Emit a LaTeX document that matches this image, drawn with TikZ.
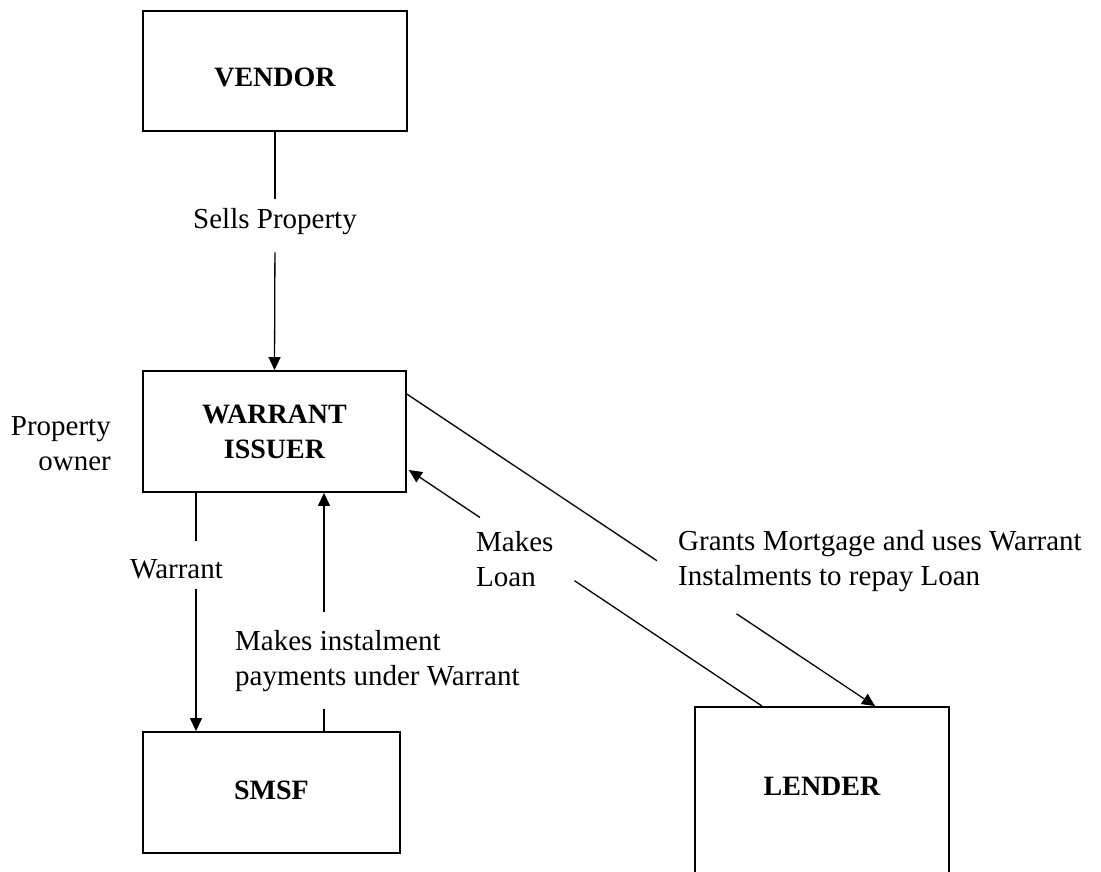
\documentclass[tikz,border=0pt]{standalone}
\usepackage{fontspec}
\setmainfont{Liberation Serif}
\usetikzlibrary{arrows.meta,calc}
\tikzset{
  box/.style={draw, line width=1.8pt, inner sep=0pt},
  boxtxt/.style={font=\bfseries\fontsize{28}{35}\selectfont, inner sep=0pt, align=center},
  lbl/.style={font=\fontsize{29}{35}\selectfont, inner sep=0pt},
  conn/.style={line width=1.3pt},
  arr/.style={conn, -{Triangle[length=13pt,width=12pt]}}
}
\begin{document}
\begin{tikzpicture}[x=1pt,y=-1pt]
\useasboundingbox (0,0) rectangle (1101,872);
\fill[white] (0,0) rectangle (1101,872);
\clip (0,0) rectangle (1101,872);

% boxes
\node[box, minimum width=264pt, minimum height=120pt] (vendor) at (275,71) {};
\node[box, minimum width=263pt, minimum height=121pt] (warrant) at (274.5,431.5) {};
\node[box, minimum width=257pt, minimum height=121pt] (smsf) at (271.5,792.5) {};
\node[box, minimum width=254pt, minimum height=200pt] (lender) at (822,807) {};

% box texts
\node[boxtxt, anchor=base] (vendortxt) at (275,87) {VENDOR};
\node[boxtxt, anchor=north] (warranttxt) at (274.5,398.5) {\strut WARRANT\\\strut ISSUER};
\node[boxtxt, anchor=base] (smsftxt) at (271.5,799) {SMSF};
\node[boxtxt, anchor=base] (lendertxt) at (822,795) {LENDER};

% labels
\node[lbl, anchor=base] (sells) at (275,229) {Sells Property};
\node[lbl, anchor=north east, align=right] (owner) at (111,410.5) {\strut Property\\\strut owner};
\node[lbl, anchor=base west] (wlbl) at (130,578) {Warrant};
\node[lbl, anchor=north west, align=left] (mi) at (235,625.5) {\strut Makes instalment\\\strut payments under Warrant};
\node[lbl, anchor=north west, align=left] (ml) at (476,526.5) {\strut Makes\\\strut Loan};
\node[lbl, anchor=north west, align=left] (gm) at (678,525.5) {\strut Grants Mortgage and uses Warrant\\\strut Instalments to repay Loan};

% Vendor -> Warrant issuer
\draw[conn, shorten >=10pt] (vendor.south) -- (sells.north);
\draw[arr, shorten <=17pt] (sells.south) -- (warrant.north);

% Warrant issuer -> SMSF
\coordinate (wx) at (196,0);
\draw[conn, shorten >=18pt] (wx |- warrant.south) -- (wx |- wlbl.north);
\draw[arr, shorten <=10pt] (wx |- wlbl.south) -- (wx |- smsf.north);

% SMSF -> Warrant issuer
\coordinate (mx) at (324,0);
\draw[conn, shorten >=13.5pt] (mx |- smsf.north) -- (mx |- mi.south);
\draw[arr, shorten <=13.5pt] (mx |- mi.north) -- (mx |- warrant.south);

% Lender -> Warrant issuer (Makes Loan)
\coordinate (mlS) at ([xshift=68pt]lender.north west);
\coordinate (mlE) at ([xshift=2pt,yshift=-38.5pt]warrant.east);
\draw[conn] (mlS) -- ($(mlS)!0.531!(mlE)$);
\draw[arr] ($(mlS)!0.799!(mlE)$) -- (mlE);

% Warrant issuer -> Lender (Grants Mortgage)
\coordinate (gS) at ([yshift=-24pt]warrant.north east);
\coordinate (gE) at ([xshift=181pt]lender.north west);
\draw[conn] (gS) -- ($(gS)!0.534!(gE)$);
\draw[arr] ($(gS)!0.704!(gE)$) -- (gE);
\end{tikzpicture}
\end{document}
